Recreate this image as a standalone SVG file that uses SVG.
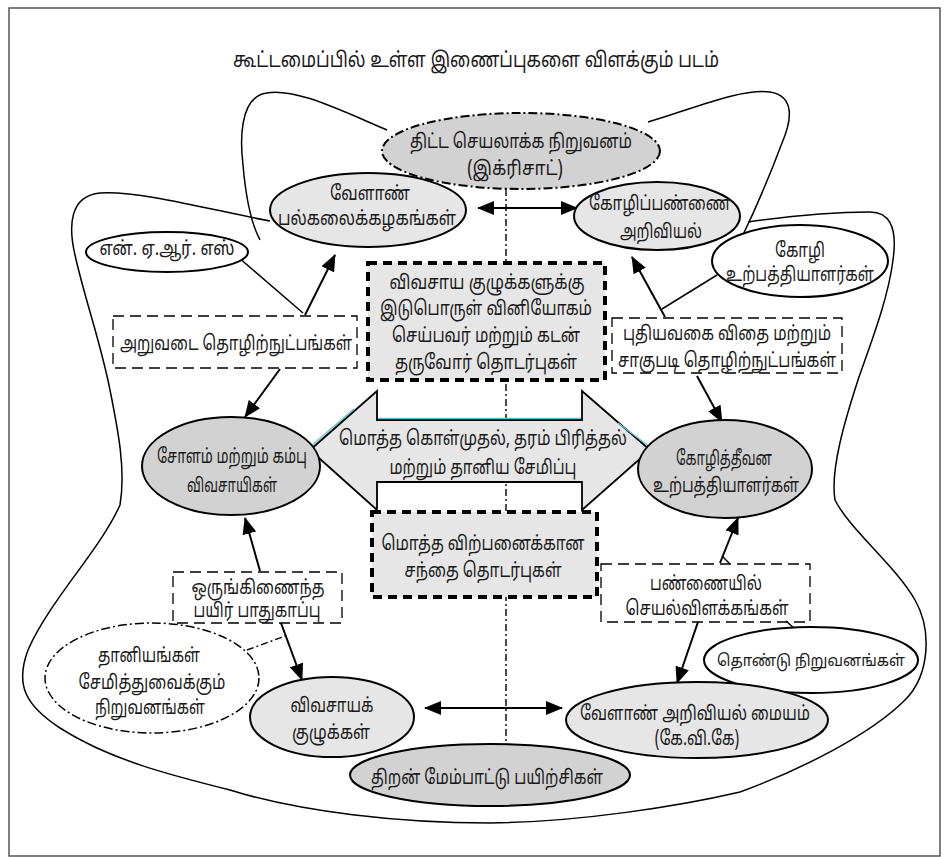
<svg xmlns="http://www.w3.org/2000/svg" width="952" height="857" viewBox="0 0 952 857">
<defs>
<marker id="ah" viewBox="0 0 17 14" refX="16" refY="7" markerWidth="17" markerHeight="14" markerUnits="userSpaceOnUse" orient="auto-start-reverse">
<path d="M0,0 L17,7 L0,14 Z" fill="#000"/>
</marker>
<style>
text{font-family:"Noto Sans Tamil","Lohit Tamil","Noto Sans","DejaVu Sans",sans-serif;font-size:19.5px;fill:#1a1a1a;text-anchor:middle}
.title{font-size:21px}
.small{font-size:16px}
.el{stroke:#000;stroke-width:2}
.g1{fill:#d2d2d2}
.g2{fill:#e6e6e6}
.w{fill:#fff}
.dd{stroke-dasharray:9 3 2 3}
.thin{fill:none;stroke:#000;stroke-width:1.3;stroke-dasharray:11 6}
.thick{fill:#e6e6e6;stroke:#000;stroke-width:4;stroke-dasharray:9 6}
.curve{fill:none;stroke:#000;stroke-width:1.5}
.arr{fill:none;stroke:#000;stroke-width:2}
.dl{fill:none;stroke:#000;stroke-width:1.4;stroke-dasharray:7 3 2 3}
</style>
</defs>
<rect x="9" y="8" width="931" height="848" fill="#fff" stroke="#555" stroke-width="1.5"/>
<text class="title" x="476" y="67" textLength="486" lengthAdjust="spacingAndGlyphs">கூட்டமைப்பில் உள்ள இணைப்புகளை விளக்கும் படம்</text>

<g id="connectors">
<path class="dl" d="M506,189 L506,743"/>
<path class="curve" d="M270,221 C220,212 140,190 100,193 C70,196 68,225 75,255 C85,300 100,340 110,390 C118,430 126,470 120,505 C100,550 50,600 28,650 C15,685 25,705 60,728 C110,760 170,775 230,790 C300,812 400,823 490,823 C580,822 680,806 740,792 C800,770 870,735 905,700 C930,675 932,630 915,600 C895,565 850,530 835,500 C830,470 845,420 858,380 C870,345 888,300 893,260 C898,225 888,212 870,212 C830,212 790,216 748,222"/>
<path class="curve" d="M387,130 C340,110 290,85 262,94 C240,102 240,140 243,165 C246,200 252,225 260,240"/>
<path class="curve" d="M648,122 C690,110 740,88 770,92 C795,96 792,120 782,143 C770,175 755,210 742,237"/>
<path class="curve" d="M238,257 L303,313"/>
<path class="curve" d="M717,275 L662,309"/>
<path class="curve" d="M722,556 L730,564"/>
<path class="curve" d="M786,621 L795,629"/>
<path class="dl" d="M247,650 L288,635"/>
<path class="arr" marker-end="url(#ah)" d="M305,315 L335,255"/>
<path class="arr" marker-end="url(#ah)" d="M280,369 L245,417"/>
<path class="arr" marker-end="url(#ah)" d="M665,317 L632,257"/>
<path class="arr" marker-end="url(#ah)" d="M697,376 L722,422"/>
<path class="arr" marker-end="url(#ah)" d="M260,571 L245,518"/>
<path class="arr" marker-end="url(#ah)" d="M281,623 L302,680"/>
<path class="arr" marker-end="url(#ah)" d="M720,563 L738,518"/>
<path class="arr" marker-end="url(#ah)" d="M698,622 L677,683"/>
<path class="arr" marker-start="url(#ah)" marker-end="url(#ah)" d="M478,208 L577,208"/>
<path class="arr" marker-start="url(#ah)" marker-end="url(#ah)" d="M425,708 L562,708"/>
</g>

<g id="n-icrisat">
<ellipse class="el g1 dd" cx="521" cy="151" rx="139" ry="38"/>
<text x="521" y="148" textLength="222" lengthAdjust="spacingAndGlyphs">திட்ட செயலாக்க நிறுவனம்</text>
<text x="515" y="175" textLength="96" lengthAdjust="spacingAndGlyphs">(இக்ரிசாட்)</text>
</g>
<g id="n-univ">
<ellipse class="el g2" cx="368" cy="210" rx="98" ry="37"/>
<text x="370" y="200" textLength="80" lengthAdjust="spacingAndGlyphs">வேளாண்</text>
<text x="367" y="225" textLength="178" lengthAdjust="spacingAndGlyphs">பல்கலைக்கழகங்கள்</text>
</g>
<g id="n-poultry-sci">
<ellipse class="el g2" cx="657" cy="216" rx="83" ry="34"/>
<text x="660" y="210" textLength="142" lengthAdjust="spacingAndGlyphs">கோழிப்பண்ணை</text>
<text x="661" y="238" textLength="82" lengthAdjust="spacingAndGlyphs">அறிவியல்</text>
</g>
<g id="n-nars">
<ellipse class="el w" cx="167" cy="252" rx="81" ry="20" stroke-width="1.5"/>
<text x="167" y="255" textLength="135" lengthAdjust="spacingAndGlyphs">என். ஏ.ஆர். எஸ்</text>
</g>
<g id="n-poultry-prod">
<ellipse class="el w" cx="800" cy="261" rx="88" ry="36" stroke-width="1.5"/>
<text x="800" y="257" textLength="50" lengthAdjust="spacingAndGlyphs">கோழி</text>
<text x="800" y="281" textLength="148" lengthAdjust="spacingAndGlyphs">உற்பத்தியாளர்கள்</text>
</g>
<g id="n-harvest">
<rect class="thin" x="113" y="316" width="244" height="52"/>
<text x="236" y="350" textLength="232" lengthAdjust="spacingAndGlyphs">அறுவடை தொழிற்நுட்பங்கள்</text>
</g>
<g id="n-input">
<rect class="thick" x="368" y="263" width="237" height="117"/>
<text x="487" y="289" textLength="195" lengthAdjust="spacingAndGlyphs">விவசாய குழுக்களுக்கு</text>
<text x="486" y="315" textLength="212" lengthAdjust="spacingAndGlyphs">இடுபொருள் வினியோகம்</text>
<text x="486" y="342" textLength="188" lengthAdjust="spacingAndGlyphs">செய்பவர் மற்றும் கடன்</text>
<text x="486" y="369" textLength="182" lengthAdjust="spacingAndGlyphs">தருவோர் தொடர்புகள்</text>
</g>
<g id="n-seed">
<rect class="thin" x="612" y="318" width="230" height="55"/>
<text x="727" y="340" textLength="208" lengthAdjust="spacingAndGlyphs">புதியவகை விதை மற்றும்</text>
<text x="727" y="367" textLength="218" lengthAdjust="spacingAndGlyphs">சாகுபடி தொழிற்நுட்பங்கள்</text>
</g>
<g id="n-procure">
<path d="M310,450 L377,391 L377,420 L582,420 L582,391 L650,450 L582,510 L582,482 L377,482 L377,510 Z" fill="#e6e6e6" stroke="#000" stroke-width="1.8"/>
<path d="M311,446 L354,409 M378,418.5 L581,418.5 M618,423 L650,447" fill="none" stroke="#5cc2d3" stroke-width="1.3"/>
<text x="483" y="445" textLength="288" lengthAdjust="spacingAndGlyphs">மொத்த கொள்முதல், தரம் பிரித்தல்</text>
<text x="483" y="474" textLength="187" lengthAdjust="spacingAndGlyphs">மற்றும் தானிய சேமிப்பு</text>
</g>
<g id="n-farmers">
<ellipse class="el g1" cx="231" cy="466" rx="89" ry="49"/>
<text x="232" y="463" textLength="150" lengthAdjust="spacingAndGlyphs">சோளம் மற்றும் கம்பு</text>
<text x="232" y="492" textLength="90" lengthAdjust="spacingAndGlyphs">விவசாயிகள்</text>
</g>
<g id="n-feed">
<ellipse class="el g1" cx="725" cy="469" rx="87" ry="49"/>
<text x="724" y="465" textLength="96" lengthAdjust="spacingAndGlyphs">கோழித்தீவன</text>
<text x="726" y="492" textLength="146" lengthAdjust="spacingAndGlyphs">உற்பத்தியாளர்கள்</text>
</g>
<g id="n-market">
<rect class="thick" x="372" y="512" width="225" height="85"/>
<text x="483" y="550" textLength="203" lengthAdjust="spacingAndGlyphs">மொத்த விற்பனைக்கான</text>
<text x="483" y="577" textLength="157" lengthAdjust="spacingAndGlyphs">சந்தை தொடர்புகள்</text>
</g>
<g id="n-ipm">
<rect class="thin" x="173" y="572" width="169" height="51"/>
<text x="258" y="594" textLength="133" lengthAdjust="spacingAndGlyphs">ஒருங்கிணைந்த</text>
<text x="257" y="617" textLength="127" lengthAdjust="spacingAndGlyphs">பயிர் பாதுகாப்பு</text>
</g>
<g id="n-demo">
<rect class="thin" x="601" y="564" width="209" height="58"/>
<text x="706" y="590" textLength="112" lengthAdjust="spacingAndGlyphs">பண்ணையில்</text>
<text x="707" y="615" textLength="163" lengthAdjust="spacingAndGlyphs">செயல்விளக்கங்கள்</text>
</g>
<g id="n-storage">
<ellipse class="w dd" cx="152" cy="678" rx="107" ry="55" stroke="#000" stroke-width="1.5"/>
<text x="149" y="662" textLength="102" lengthAdjust="spacingAndGlyphs">தானியங்கள்</text>
<text x="152" y="689" textLength="147" lengthAdjust="spacingAndGlyphs">சேமித்துவைக்கும்</text>
<text x="150" y="714" textLength="110" lengthAdjust="spacingAndGlyphs">நிறுவனங்கள்</text>
</g>
<g id="n-ngo">
<ellipse class="el w" cx="811" cy="660" rx="107" ry="33" stroke-width="1.5"/>
<text class="small" x="811" y="666" textLength="188" lengthAdjust="spacingAndGlyphs">தொண்டு நிறுவனங்கள்</text>
</g>
<g id="n-groups">
<ellipse class="el g2" cx="332" cy="717" rx="82" ry="40"/>
<text x="332" y="712" textLength="83" lengthAdjust="spacingAndGlyphs">விவசாயக்</text>
<text x="331" y="739" textLength="78" lengthAdjust="spacingAndGlyphs">குழுக்கள்</text>
</g>
<g id="n-kvk">
<ellipse class="el g2" cx="697" cy="720" rx="131" ry="38"/>
<text x="695" y="720" textLength="230" lengthAdjust="spacingAndGlyphs">வேளாண் அறிவியல் மையம்</text>
<text x="697" y="745" textLength="85" lengthAdjust="spacingAndGlyphs">(கே.வி.கே)</text>
</g>
<g id="n-skill">
<ellipse class="el g1" cx="490" cy="775" rx="140" ry="31"/>
<text x="487" y="784" textLength="232" lengthAdjust="spacingAndGlyphs">திறன் மேம்பாட்டு பயிற்சிகள்</text>
</g>
</svg>
